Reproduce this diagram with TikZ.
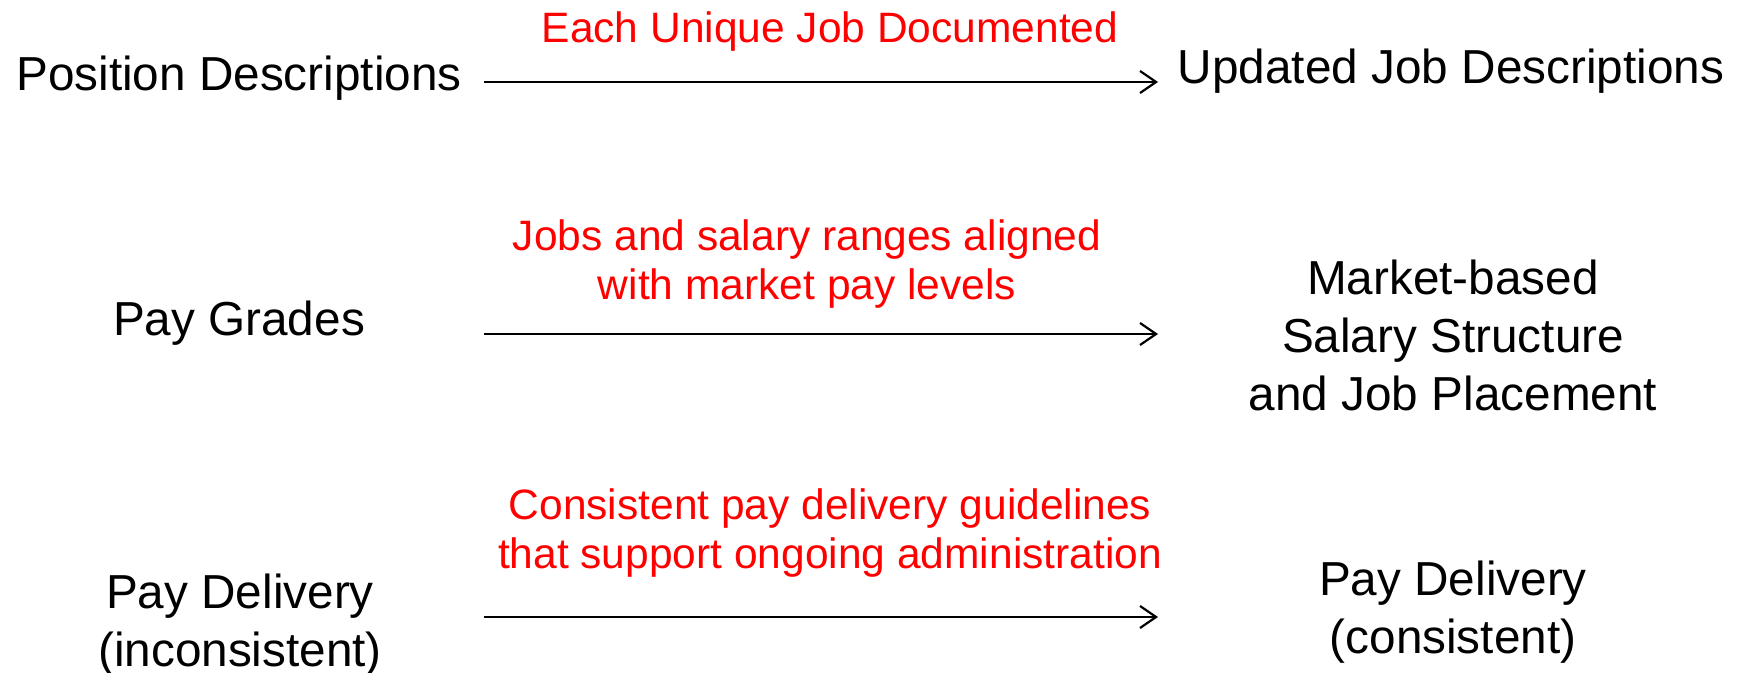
\documentclass[tikz,border=0pt]{standalone}
\usepackage{fontspec}
\setmainfont{Liberation Sans}
\usetikzlibrary{arrows.meta}
\definecolor{notered}{RGB}{255,0,0}
\begin{document}
\begin{tikzpicture}[x=0.5pt,y=-0.5pt,
  item/.style={font=\fontsize{23.85pt}{29pt}\selectfont, align=center, inner sep=0pt, text=black},
  note/.style={font=\fontsize{21.25pt}{24.5pt}\selectfont, align=center, inner sep=0pt, text=notered},
  flow/.style={line width=1.1pt, -{Straight Barb[length=8pt,width=11pt,line width=1.1pt]}}]
\useasboundingbox (0,0) rectangle (1746,673);

% row 1
\node[item] (posdesc) at (239,78) {Position Descriptions};
\node[item] (upddesc) at (1451,71) {Updated Job Descriptions};
\coordinate (a1s) at (484,82);
\coordinate (a1e) at (1158,82);
\draw[flow] (a1s) -- (a1e);
\node[note] (n1) at (830,32) {Each Unique Job Documented};

% row 2
\node[item] (grades) at (239,323) {Pay Grades};
\node[item] (market) at (1453,335) {Market-based\\Salary Structure\\and Job Placement};
\coordinate (a2s) at (484,334);
\coordinate (a2e) at (1158,334);
\draw[flow] (a2s) -- (a2e);
\node[note] (n2) at (807,264) {Jobs and salary ranges aligned\\with market pay levels};

% row 3
\node[item] (delin) at (240,625) {Pay Delivery\\(inconsistent)};
\node[item] (delcon) at (1453,612) {Pay Delivery\\(consistent)};
\coordinate (a3s) at (484,617);
\coordinate (a3e) at (1158,617);
\draw[flow] (a3s) -- (a3e);
\node[note] (n3) at (830,533) {Consistent pay delivery guidelines\\that support ongoing administration};
\end{tikzpicture}
\end{document}
